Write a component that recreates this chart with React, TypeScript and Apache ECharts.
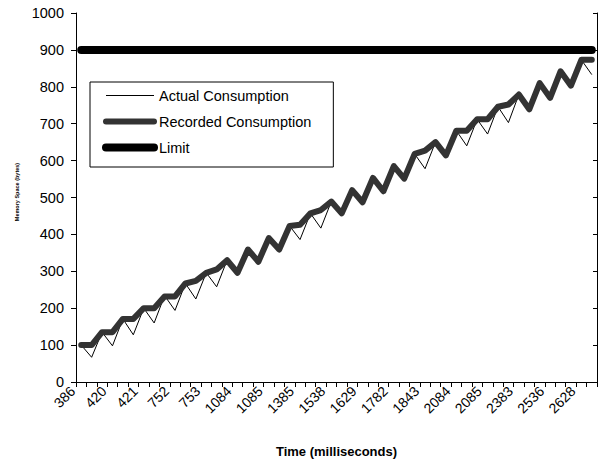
import React, { useEffect, useRef } from "react";
import * as echarts from "echarts";

const timeLabels = [
  "386", "386", "420", "420", "420", "421", "421", "421", "752", "752",
  "752", "753", "753", "753", "1084", "1084", "1084", "1085", "1085", "1085",
  "1384", "1385", "1385", "1537", "1538", "1538", "1628", "1629", "1629", "1781",
  "1782", "1782", "1842", "1843", "1843", "2084", "2084", "2084", "2085", "2085",
  "2085", "2383", "2383", "2383", "2536", "2536", "2536", "2628", "2628", "2628",
];

const actualConsumption = [
  100, 67, 135, 98, 171, 128, 200, 160, 234, 194,
  267, 225, 296, 258, 330, 296, 359, 326, 390, 359,
  423, 386, 457, 417, 489, 457, 520, 487, 553, 517,
  585, 551, 618, 578, 650, 614, 681, 640, 712, 672,
  746, 703, 779, 739, 810, 770, 842, 803, 873, 833,
];

const recordedConsumption = [
  100, 100, 135, 135, 171, 171, 200, 200, 232, 232,
  267, 274, 296, 305, 330, 296, 359, 326, 390, 359,
  423, 426, 457, 466, 489, 457, 520, 487, 553, 517,
  585, 551, 618, 627, 650, 614, 681, 681, 712, 712,
  746, 752, 779, 739, 810, 770, 842, 803, 873, 873,
];

const limitValue = 900;
const limitLine = timeLabels.map(() => limitValue);

const seriesNames = ["Actual Consumption", "Recorded Consumption", "Limit"];
const yMin = 0;
const yMax = 1000;
const yInterval = 100;

const FONT = '"Liberation Sans", Arial, Helvetica, sans-serif';

const hiddenSymbol = { color: "transparent", borderWidth: 0, opacity: 0 };

export default function App() {
  const ref = useRef<HTMLDivElement>(null);

  useEffect(() => {
    if (!ref.current) return;
    const chart = echarts.init(ref.current, undefined, { renderer: "svg" });
    chart.setOption({
      animation: false,
      backgroundColor: "#ffffff",
      textStyle: { fontFamily: FONT },
      grid: { left: 76, right: 3, top: 13, bottom: 78, containLabel: false },
      legend: {
        orient: "vertical",
        left: 90,
        top: 82,
        padding: [6, 22, 12, 12],
        itemWidth: 48,
        itemHeight: 14,
        itemGap: 11,
        borderColor: "#000000",
        borderWidth: 1,
        borderRadius: 0,
        backgroundColor: "#ffffff",
        selectedMode: false,
        itemStyle: hiddenSymbol,
        textStyle: { fontSize: 14.5, color: "#000000", fontFamily: FONT },
        data: [
          { name: seriesNames[0], itemStyle: hiddenSymbol, lineStyle: { width: 1, color: "#000000", cap: "butt" } },
          { name: seriesNames[1], itemStyle: hiddenSymbol, lineStyle: { width: 6, color: "#333333", cap: "round" } },
          { name: seriesNames[2], itemStyle: hiddenSymbol, lineStyle: { width: 8, color: "#000000", cap: "round" } },
        ],
      },
      xAxis: {
        type: "category",
        data: timeLabels,
        boundaryGap: true,
        axisLine: { show: true, lineStyle: { color: "#000000", width: 1 } },
        axisTick: { show: true, interval: 0, length: 5, lineStyle: { color: "#000000" } },
        axisLabel: {
          interval: 2,
          rotate: 45,
          margin: 8,
          fontSize: 14,
          color: "#000000",
          fontFamily: FONT,
          align: "right",
          verticalAlign: "bottom",
          padding: [0, 5, 0, 0],
        },
        splitLine: { show: false },
        name: "Time (milliseconds)",
        nameLocation: "middle",
        nameGap: 63,
        nameTextStyle: { fontSize: 13, fontWeight: "bold", color: "#000000", fontFamily: FONT },
      },
      yAxis: [
        {
          type: "value",
          min: yMin,
          max: yMax,
          interval: yInterval,
          axisLine: { show: true, lineStyle: { color: "#000000", width: 1 } },
          axisTick: { show: true, length: 5, lineStyle: { color: "#000000" } },
          axisLabel: {
            fontSize: 14.5,
            color: "#000000",
            margin: 12,
            fontFamily: FONT,
            formatter: (v: number) => String(v),
          },
          splitLine: { show: false },
        },
        {
          type: "value",
          position: "right",
          min: yMin,
          max: yMax,
          interval: yInterval,
          axisLine: { show: true, lineStyle: { color: "#000000", width: 1 } },
          axisTick: { show: true, inside: true, length: 4, lineStyle: { color: "#000000" } },
          axisLabel: { show: false },
          splitLine: { show: false },
        },
      ],
      graphic: [
        {
          type: "text",
          x: 17,
          y: 192,
          rotation: Math.PI / 2,
          style: {
            text: "Memory Space (bytes)",
            fontSize: 5.5,
            fontWeight: "bold",
            fill: "#000000",
            fontFamily: FONT,
            align: "center",
            verticalAlign: "middle",
          },
        },
      ],
      series: [
        {
          name: seriesNames[0],
          type: "line",
          data: actualConsumption,
          symbol: "none",
          lineStyle: { width: 1, color: "#000000", join: "round" },
          itemStyle: { color: "#000000" },
          z: 2,
        },
        {
          name: seriesNames[1],
          type: "line",
          data: recordedConsumption,
          symbol: "none",
          lineStyle: { width: 6, color: "#333333", cap: "round", join: "round" },
          itemStyle: { color: "#333333" },
          z: 3,
        },
        {
          name: seriesNames[2],
          type: "line",
          data: limitLine,
          symbol: "none",
          lineStyle: { width: 8, color: "#000000", cap: "round", join: "round" },
          itemStyle: { color: "#000000" },
          z: 4,
        },
      ],
    });
    return () => chart.dispose();
  }, []);

  return (
    <div
      ref={ref}
      style={{ position: "fixed", left: 0, top: 0, width: 600, height: 463, background: "#fff" }}
    />
  );
}
